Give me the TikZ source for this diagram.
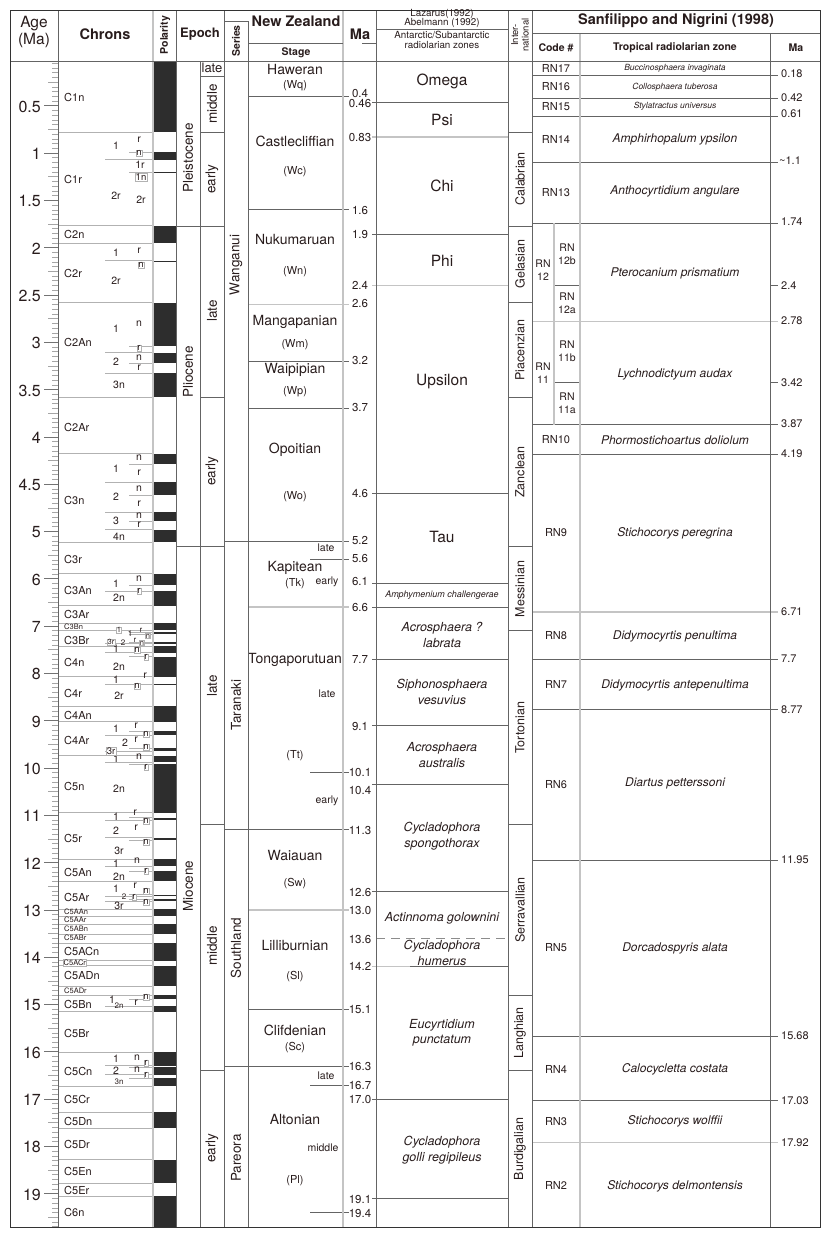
\documentclass[tikz,border=0pt]{standalone}
\usepackage{fontspec}
\setmainfont{TeX Gyre Heros}
\newcommand{\myfz}[2]{\fontsize{#1}{#2}\selectfont}
\definecolor{txt}{RGB}{40,28,28}
\definecolor{lgrey}{RGB}{196,196,196}
\definecolor{dgrey}{RGB}{100,100,100}
\definecolor{bar}{RGB}{45,45,45}
\begin{document}
\begin{tikzpicture}[x=1pt,y=-1pt,
  declare function={Y(\a)=(\a<5)*(58.4+94.6*\a)+(\a>=5)*(531.4+47.3*(\a-5));},
  thinl/.style={draw=dgrey,line width=0.6pt},
  thickl/.style={draw=lgrey,line width=1.6pt},
  chl/.style={draw=black!30,line width=0.7pt},
  frame/.style={draw=black!80,line width=0.9pt},
  tick/.style={draw=black!35,line width=0.5pt},
  T/.style={text=txt,inner sep=0pt},
  age/.style={T,anchor=east,font=\myfz{16}{17}},
  ch/.style={T,anchor=west,font=\myfz{11}{12}},
  chs/.style={T,anchor=west,font=\myfz{7.5}{8}},
  sb/.style={T,font=\myfz{10.5}{11}},
  sbs/.style={T,font=\myfz{8}{9}},
  bx/.style={T,font=\myfz{9.5}{10},draw=black!30,fill=white,inner sep=0.6pt,line width=0.4pt},
  bxs/.style={T,font=\myfz{7.5}{8},draw=black!30,fill=white,inner sep=0.5pt,line width=0.4pt},
  stg/.style={T,font=\myfz{14}{15}},
  abbr/.style={T,font=\myfz{11}{12}},
  sm/.style={T,font=\myfz{10.5}{11}},
  ma/.style={T,font=\myfz{11.5}{12}},
  zn/.style={T,font=\myfz{15.5}{16}},
  it/.style={T,font=\myfz{12.5}{15.5}\itshape,align=center},
  rot/.style={T,rotate=90,font=\myfz{13.5}{14}},
  code/.style={T,font=\myfz{11}{12},align=center},
  rz/.style={T,font=\myfz{12}{14}\itshape},
  rzs/.style={T,font=\myfz{8.5}{9}\itshape},
  rma/.style={T,anchor=west,font=\myfz{11}{12}},
  hb/.style={T,font=\myfz{14.5}{16}\bfseries},
  hs/.style={T,font=\myfz{10.5}{12}\bfseries},
  hl/.style={T,font=\myfz{9.8}{10.5}}]
\useasboundingbox (0,0) rectangle (827,1240);

% ---------- polarity bars ----------
\foreach \t/\b in {0.03/0.78,0.99/1.07,1.201/1.211,1.77/1.95,2.14/2.15,2.581/3.04,3.11/3.22,3.33/3.58,4.18/4.29,4.48/4.62,4.80/4.89,4.98/5.23,5.894/6.137,6.269/6.567,6.935/7.091,7.135/7.17,7.341/7.375,7.432/7.562,7.65/8.072,8.225/8.257,8.699/9.025,9.23/9.308,9.58/9.642,9.74/9.88,9.92/10.949,11.052/11.099,11.476/11.531,11.935/12.078,12.184/12.401,12.678/12.708,12.775/12.819,12.991/13.139,13.302/13.51,13.703/14.076,14.178/14.612,14.8/14.888,15.034/15.155,16.014/16.293,16.327/16.488,16.556/16.726,17.277/17.615,18.281/18.781,19.048/19.705}
  \fill[bar] (153,{Y(\t)}) rectangle (176,{max(Y(\b),Y(\t)+1.3)});

% ---------- chron boundaries ----------
\foreach \a in {0.78,1.77,1.95,2.581,3.58,4.18,5.23,5.894,6.567,6.935,7.091,7.432,8.072,8.699,9.025,9.74,10.949,11.935,12.401,12.991,13.139,13.302,13.51,13.703,14.076,14.178,14.612,14.8,15.155,16.014,16.726,17.277,17.615,18.281,18.781,19.048}
  \draw[chl] (58,{Y(\a)}) -- (153,{Y(\a)});
\foreach \a in {1.07,2.14,3.11,3.33,4.48,4.80,4.98,6.269,7.375,7.562,8.225,9.308,9.642,9.88,11.099,11.476,12.078,12.708,12.819,15.034,16.293,16.488}
  \draw[chl] (105,{Y(\a)}) -- (153,{Y(\a)});
\foreach \a in {0.99,1.201,3.04,3.22,4.29,4.62,4.89,6.137,7.135,7.17,7.341,7.65,9.23,9.58,9.92,11.052,11.531,12.184,12.678,12.775,14.888,16.327,16.556}
  \draw[chl] (129,{Y(\a)}) -- (153,{Y(\a)});

% ---------- chron labels ----------
\foreach \y/\t in {97/C1n,179/C1r,234/C2n,273/C2r,342/C2An,427/C2Ar,500/C3n,559/C3r,590/C3An,614/C3Ar,640/C3Br,662/C4n,693/C4r,715/C4An,740/C4Ar,786/C5n,838/C5r,872/C5An,897/C5Ar,951/C5ACn,975/C5ADn,1004/C5Bn,1033/C5Br,1071/C5Cn,1099/C5Cr,1121/C5Dn,1144/C5Dr,1171/C5En,1190/C5Er,1212/C6n}
  \node[ch] at (64,\y) {\t};
\foreach \y/\t in {627/C3Bn,912/C5AAn,920/C5AAr,929/C5ABn,938/C5ABr,991/C5ADr}
  \node[chs] at (64,\y) {\t};
\node[bxs,anchor=west] (c5acr) at (63,963) {C5ACr};

\foreach \x/\y/\t in {116/146/1,139/140/r,140/165/1r,116/196/2r,141/200/2r,
  116/253/1,139/251/r,116/281/2r,
  116/329/1,139/324/n,116/362/2,139/358/n,139/368/r,119/385/3n,
  116/469/1,139/458/n,139/473/r,116/497/2,139/489/n,139/504/r,116/521/3,139/516/n,139/525/r,119/537/4n,
  116/584/1,139/579/n,119/598/2n,
  116/649/1,119/667/2n,116/680/1,145/676/r,119/696/2r,
  116/729/1,136/726/r,125/743/2,136/740/r,
  116/759/1,139/757/n,119/789/2n,
  116/817/1,135/813/r,116/831/2,136/828/r,119/851/3r,
  116/864/1,137/861/n,119/877/2n,
  116/889/1,135/886/r,119/906/3r,
  112/1000/1,136/1003/r,
  116/1059/1,137/1058/n,116/1071/2,137/1070/n}
  \node[sb] at (\x,\y) {\t};
\foreach \x/\y/\t in {139/153/n,141/177/1n,141/265/n,139/348/r,139/591/r,137/650/n,146/657/r,137/686/n,
  146/734/n,146/747/n,111/751/3r,146/767/r,146/821/n,146/842/n,146/871/r,146/891/n,134/897/r,146/902/n,
  146/997/n,146/1063/r,146/1075/r}
  \node[bx] at (\x,\y) {\t};
\foreach \x/\y/\t in {130/634/1,123/643/2,135/640/r,141/630/r,124/897/2,119/1006/2n,119/1082/3n}
  \node[sbs] at (\x,\y) {\t};
\foreach \x/\y/\t in {119/630/1,111/642/3r,142/643/n,148/636/n}
  \node[bxs] at (\x,\y) {\t};

% ---------- age axis ----------
\foreach \i in {1,...,99} \draw[tick] (52,{Y(\i*0.05)}) -- (58,{Y(\i*0.05)});
\foreach \i in {51,...,197} \draw[tick] (52,{Y(\i/10)}) -- (58,{Y(\i/10)});
\foreach \a in {0.25,0.75,...,4.75} \draw[tick] (48,{Y(\a)}) -- (58,{Y(\a)});
\foreach \a in {5.5,6.5,...,19.5} \draw[tick] (48,{Y(\a)}) -- (58,{Y(\a)});
\foreach \a in {0.5,1,1.5,2,2.5,3,3.5,4,4.5,5,6,7,8,9,10,11,12,13,14,15,16,17,18,19} {
  \draw[draw=black!55,line width=0.6pt] (44,{Y(\a)}) -- (58,{Y(\a)});
  \node[age] at (41,{Y(\a)+1}) {\a};
}

% ---------- epoch / series ----------
\draw[thinl] (176,{Y(1.77)}) -- (224,{Y(1.77)});
\draw[thinl] (176,{Y(5.32)}) -- (224,{Y(5.32)});
\draw[thinl] (200,76) -- (224,76);
\foreach \a in {0.78,3.58,11.2,16.4} \draw[thinl] (200,{Y(\a)}) -- (224,{Y(\a)});
\node[rot] (pleist) at (188,158) {Pleistocene};
\node[rot] (plio) at (188,372) {Pliocene};
\node[rot] (mio) at (188,886) {Miocene};
\node[T,font=\myfz{13}{14}] (elate) at (212,68) {late};
\node[rot] at (212,104) {middle};
\node[rot] at (212,179) {early};
\node[rot] at (212,311) {late};
\node[rot] at (212,471) {early};
\node[rot] at (212,686) {late};
\node[rot] at (212,946) {middle};
\node[rot] at (212,1148) {early};
\node[rot] (wang) at (236,265) {Wanganui};
\node[rot] (tara) at (236,705) {Taranaki};
\node[rot] (south) at (236,948) {Southland};
\node[rot] (pare) at (236,1158) {Pareora};

% ---------- NZ stages ----------
\foreach \a in {0.4,1.6,3.2,3.7,15.1} \draw[thinl] (248,{Y(\a)}) -- (349,{Y(\a)});
\foreach \a in {5.2,11.3,16.3} \draw[thinl] (224,{Y(\a)}) -- (349,{Y(\a)});
\foreach \a in {5.6,10.1,16.7,19.4} \draw[thinl] (310,{Y(\a)}) -- (349,{Y(\a)});
\foreach \a in {2.6,6.6,13.0} \draw[thickl] (248,{Y(\a)}) -- (349,{Y(\a)});
\foreach \y/\t in {69/Haweran,141/Castlecliffian,239/Nukumaruan,322/Mangapanian,370/Waipipian,450/Opoitian,568/Kapitean,660/Tongaporutuan,855/Waiauan,945/Lilliburnian,1030/Clifdenian,1119/Altonian}
  \node[stg] at (295,\y) {\t};
\foreach \y/\t in {86/(Wq),172/(Wc),272/(Wn),345/(Wm),392/(Wp),497/(Wo),584/(Tk),756/(Tt),884/(Sw),977/(Sl),1048/(Sc),1181/(Pl)}
  \node[abbr] at (295,\y) {\t};
\foreach \x/\y/\t in {326/548/late,327/582/early,327/694/late,327/801/early,326/1076/late,323/1148/middle}
  \node[sm] at (\x,\y) {\t};
\foreach \y/\t in {94/0.4,104/0.46,138/0.83,211/1.6,235/1.9,285/2.4,304/2.6,361/3.2,408/3.7,494/4.6,541/5.2,559/5.6,581/6.1,607/6.6,659/7.7,726/9.1,772/10.1,790/10.4,830/11.3,892/12.6,910/13.0,939/13.6,966/14.2,1009/15.1,1066/16.3,1085/16.7,1099/17.0,1199/19.1,1213/19.4}
  \node[ma] at (360,\y) {\t};

% ---------- Lazarus / Abelmann zones ----------
\foreach \a in {0.46,4.6,6.1,6.6,7.7,9.1,12.6,17.0,19.1} \draw[thinl] (372,{Y(\a)}) -- (508,{Y(\a)});
\draw[thinl] (372,234) -- (508,234);
\draw[thinl] (372,784) -- (508,784);
\foreach \a in {0.83,2.4} \draw[thickl] (372,{Y(\a)}) -- (508,{Y(\a)});
\draw[draw=black!45,line width=0.6pt,dash pattern=on 9pt off 6pt] (376,{Y(13.6)}) -- (508,{Y(13.6)});
\draw[thinl] (410,{Y(14.2)}) -- (508,{Y(14.2)});
\draw[draw=lgrey,line width=1pt] (372,{Y(14.2)}) -- (410,{Y(14.2)});
\node[zn] (omega) at (442,81) {Omega};
\node[zn] (psi) at (442,120) {Psi};
\node[zn] (chi) at (442,186) {Chi};
\node[zn] (phi) at (442,261) {Phi};
\node[zn] (ups) at (442,382) {Upsilon};
\node[zn] (tau) at (442,537) {Tau};
\node[T,font=\myfz{9}{10}\itshape] (amph) at (442,595) {Amphymenium challengerae};
\node[it] at (442,635) {Acrosphaera ?\\labrata};
\node[it] at (442,692) {Siphonosphaera\\vesuvius};
\node[it] at (442,755) {Acrosphaera\\australis};
\node[it] at (442,836) {Cycladophora\\spongothorax};
\node[it] at (442,918) {Actinnoma golownini};
\node[it] at (442,953) {Cycladophora\\humerus};
\node[it] at (442,1033) {Eucyrtidium\\punctatum};
\node[it] at (442,1150) {Cycladophora\\golli regipileus};

% ---------- international stages ----------
\foreach \a in {0.78,1.77,2.58,3.58,5.32,7.1,11.2,14.8,16.4} \draw[thinl] (508,{Y(\a)}) -- (532,{Y(\a)});
\foreach \y/\t in {179/Calabrian,264/Gelasian,350/Piacenzian,472/Zanclean,589/Messinian,728/Tortonian,910/Serravallian,1033/Langhian,1149/Burdigalian}
  \node[rot,font=\myfz{12.5}{13}] at (520,\y) {\t};

% ---------- Sanfilippo & Nigrini ----------
\foreach \a in {0.18,0.42,0.61,1.1,1.74,3.87,4.19,7.7,8.77,11.95,15.68,17.03} \draw[thinl] (532,{Y(\a)}) -- (778,{Y(\a)});
\foreach \a in {2.78,6.71,17.92} \draw[thickl] (532,{Y(\a)}) -- (778,{Y(\a)});
\foreach \a in {2.4,3.42} {\draw[thinl] (554,{Y(\a)}) -- (580,{Y(\a)}); \draw[thinl] (770,{Y(\a)}) -- (778,{Y(\a)});}
\draw[thickl] (554,{Y(1.74)}) -- (554,{Y(3.87)});
\foreach \y/\t in {68/RN17,87/RN16,107/RN15,139/RN14,193/RN13,440/RN10,533/RN9,636/RN8,684/RN7,785/RN6,948/RN5,1069/RN4,1122/RN3,1185/RN2}
  \node[code] at (556,\y) {\t};
\node[code,font=\myfz{10.5}{12.5}] at (543,270) {RN\\12};
\node[code,font=\myfz{10.5}{12.5}] at (567,254) {RN\\12b};
\node[code,font=\myfz{10.5}{12.5}] at (567,303) {RN\\12a};
\node[code,font=\myfz{10.5}{12.5}] at (543,373) {RN\\11};
\node[code,font=\myfz{10.5}{12.5}] at (567,351) {RN\\11b};
\node[code,font=\myfz{10.5}{12.5}] at (567,403) {RN\\11a};
\node[rzs] at (675,68) {Buccinosphaera invaginata};
\node[rzs] at (675,87) {Collosphaera tuberosa};
\node[rzs] at (675,106) {Stylatractus universus};
\foreach \y/\t in {139/Amphirhopalum ypsilon,191/Anthocyrtidium angulare,273/Pterocanium prismatium,374/Lychnodictyum audax,440/Phormostichoartus doliolum,533/Stichocorys peregrina,636/Didymocyrtis penultima,685/Didymocyrtis antepenultima,783/Diartus petterssoni,948/Dorcadospyris alata,1069/Calocycletta costata,1121/Stichocorys wolffii,1186/Stichocorys delmontensis}
  \node[rz] at (675,\y) {\t};
\foreach \y/\t in {74/0.18,98/0.42,114/0.61,222/1.74,286/2.4,321/2.78,383/3.42,424/3.87,454/4.19,612/6.71,659/7.7,710/8.77,860/11.95,1036/15.68,1101/17.03,1143/17.92}
  \node[rma] at (781,\y) {\t};
\node[rma] at (779,161) {\textasciitilde 1.1};

% ---------- column lines ----------
\foreach \x in {58,176,224,376,508,532} \draw[thinl] (\x,10) -- (\x,1227);
\draw[thinl] (200,61) -- (200,1227);
\draw[thinl] (248,21) -- (248,1227);
\draw[thinl] (770,33) -- (770,1227);
\draw[thickl] (153,10) -- (153,1227);
\draw[thickl] (343,10) -- (343,1227);
\draw[thickl] (580,33) -- (580,1227);
\draw[thinl] (10,61) -- (820,61);
\draw[thinl] (224,21) -- (248,21);
\draw[thinl] (248,43) -- (343,43);
\draw[thinl] (376,29) -- (508,29);
\draw[thinl] (362,43) -- (376,43);
\draw[thinl] (532,33) -- (820,33);
\draw[frame] (10,10) rectangle (820,1227);

% ---------- header ----------
\node[T,font=\myfz{15.5}{17},align=center] (hage) at (34,32) {Age\\(Ma)};
\node[hb] (hchr) at (105,34) {Chrons};
\node[T,rotate=90,font=\myfz{10.5}{11}\bfseries] (hpol) at (165,35) {Polarity};
\node[T,font=\myfz{13}{14}\bfseries] (hep) at (200,34) {Epoch};
\node[T,rotate=90,font=\myfz{10.5}{11}\bfseries] (hser) at (236,41) {Series};
\node[hb] (hnz) at (296,21) {New Zealand};
\node[hs] (hstg) at (296,53) {Stage};
\node[hb] (hma) at (360,34) {Ma};
\node[hl] at (442,14) {Lazarus(1992)};
\node[hl] at (442,23) {Abelmann (1992)};
\node[hl] at (442,35) {Antarctic/Subantarctic};
\node[hl] at (442,45) {radiolarian zones};
\node[T,rotate=90,font=\myfz{9.5}{10.5},align=center] (hint) at (520,35) {Inter-\\national};
\node[hb] (hsan) at (676,21) {Sanfilippo and Nigrini (1998)};
\node[hs] (hcode) at (556,48) {Code \#};
\node[hs] (hzone) at (675,48) {Tropical radiolarian zone};
\node[hs] (hma2) at (796,48) {Ma};
\end{tikzpicture}
\end{document}
